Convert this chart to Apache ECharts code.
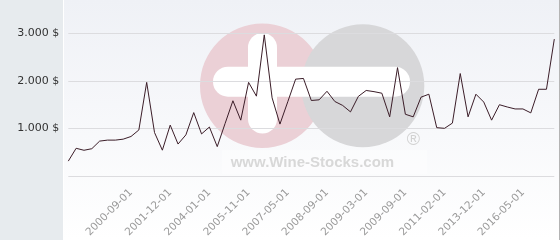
<!DOCTYPE html>
<html>
<head>
<meta charset="utf-8">
<script src="https://cdn.jsdelivr.net/npm/echarts@6/dist/echarts.min.js"></script>
<style>html,body{margin:0;padding:0;background:#fff}#c{width:560px;height:240px}</style>
</head>
<body>
<div id="c"></div>
<script>
// Price series (USD), one value per auction date
const prices = [
  310, 580, 538, 571, 731, 752, 752, 772, 828, 965,
  1967, 911, 540, 1068, 669, 862, 1331, 882, 1027, 615,
  1100, 1580, 1172, 1967, 1677, 2967, 1642, 1089, 1560, 2035,
  2050, 1586, 1600, 1780, 1565, 1482, 1346, 1672, 1797, 1772,
  1739, 1242, 2277, 1296, 1242, 1656, 1718, 1014, 1000, 1110,
  2153, 1242, 1718, 1553, 1172, 1497, 1449, 1408, 1408, 1325,
  1822, 1822, 2878
];
// Dates visible as tick labels, and the point index each belongs to
const tickLabels = ['2000-09-01', '2001-12-01', '2004-01-01', '2005-11-01', '2007-05-01',
  '2008-09-01', '2009-03-01', '2009-09-01', '2011-02-01', '2013-12-01', '2016-05-01'];
const tickIndex = [8, 13, 18, 23, 28, 33, 38, 43, 48, 53, 58];
const yTicks = [0, 1000, 2000, 3000];

const categories = prices.map((_, i) => {
  const k = tickIndex.indexOf(i);
  return k >= 0 ? tickLabels[k] : '';
});

function fmtUsd(v) {
  if (v === 0) return '';
  const s = String(Math.round(v));
  return s.replace(/\B(?=(\d{3})+(?!\d))/g, '.') + ' $';
}

const chart = echarts.init(document.getElementById('c'), null, {renderer: 'canvas'});
chart.setOption({
  animation: false,
  backgroundColor: {
    type: 'linear', x: 0, y: 0, x2: 0, y2: 1,
    colorStops: [{offset: 0, color: '#eff1f6'}, {offset: 1, color: '#ffffff'}]
  },
  grid: {left: 68.3, right: 5.7, top: 33.3, bottom: 61.7, containLabel: false},
  xAxis: {
    type: 'category',
    data: categories,
    boundaryGap: false,
    axisLine: {show: false},
    axisTick: {show: false},
    splitLine: {show: false},
    axisLabel: {
      interval: (i) => tickIndex.indexOf(i) >= 0,
      rotate: 45,
      margin: 15,
      color: '#9a9a9a',
      fontFamily: 'DejaVu Sans',
      fontSize: 10.5
    }
  },
  yAxis: {
    type: 'value',
    min: yTicks[0],
    max: yTicks[yTicks.length - 1],
    interval: 1000,
    axisLine: {show: false},
    axisTick: {show: false},
    splitLine: {lineStyle: {color: '#dcdcdf', width: 1}},
    axisLabel: {
      formatter: fmtUsd,
      margin: 9,
      color: '#333333',
      fontFamily: 'DejaVu Sans',
      fontSize: 11
    }
  },
  graphic: [
    {type: 'rect', z: -5, silent: true, shape: {x: 0, y: 0, width: 63, height: 240}, style: {fill: '#e7ebee'}},
    {type: 'line', z: -5, silent: true, shape: {x1: 63.5, y1: 0, x2: 63.5, y2: 240}, style: {stroke: '#ffffff', lineWidth: 1}},
    {type: 'line', z: 5, silent: true, shape: {x1: 559.5, y1: 0, x2: 559.5, y2: 240}, style: {stroke: '#b4b4b4', lineWidth: 1}},
    {type: 'rect', z: -4, silent: true, shape: {x: 222, y: 150, width: 205, height: 24}, style: {fill: '#ffffff', opacity: 0.35}},
    {type: 'circle', z: -4, silent: true, shape: {cx: 262.3, cy: 85.7, r: 62.3}, style: {fill: '#ebd0d6'}},
    {type: 'circle', z: -4, silent: true, shape: {cx: 362.8, cy: 85.7, r: 61.5}, style: {fill: '#d7d7d9'}},
    {type: 'rect', z: -4, silent: true, shape: {x: 213, y: 66.7, width: 197, height: 30, r: 15}, style: {fill: '#ffffff'}},
    {type: 'rect', z: -4, silent: true, shape: {x: 248, y: 33, width: 29, height: 100.5, r: 14.5}, style: {fill: '#ffffff'}},
    {type: 'text', z: -4, silent: true, style: {x: 230.7, y: 162.5, text: 'www.Wine-Stocks.com', font: 'bold 15px "Liberation Sans", Arial', fill: '#d8d8d8', verticalAlign: 'middle', align: 'left'}},
    {type: 'text', z: -4, silent: true, style: {x: 413.3, y: 140, text: '®', font: '18px "Liberation Sans", Arial', fill: '#d2d2d2', verticalAlign: 'middle', align: 'center'}}
  ],
  series: [{
    type: 'line',
    data: prices,
    symbol: 'none',
    lineStyle: {color: '#3b1d28', width: 1},
    z: 3
  }]
});
</script>
</body>
</html>
